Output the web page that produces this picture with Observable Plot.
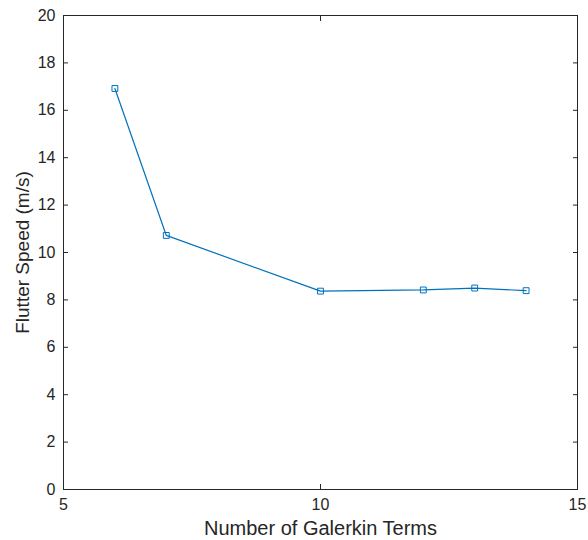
<!DOCTYPE html>
<html>
<head>
<meta charset="utf-8">
<script src="https://cdn.jsdelivr.net/npm/d3@7"></script>
<script src="https://cdn.jsdelivr.net/npm/@observablehq/plot@0.6"></script>
<style>
  html, body { margin: 0; padding: 0; background: #fff; }
  #chart { width: 588px; height: 540px; }
  svg { font-family: "Liberation Sans", Arial, sans-serif; }
</style>
</head>
<body>
<div id="chart"></div>
<script>
// Flutter speed convergence against the number of Galerkin terms
const galerkinTerms = [6, 7, 10, 12, 13, 14];
const flutterSpeed = [16.92, 10.72, 8.37, 8.42, 8.50, 8.39];
const xTicks = [5, 10, 15];
const yTicks = [0, 2, 4, 6, 8, 10, 12, 14, 16, 18, 20];

const rows = galerkinTerms.map((n, i) => ({n, v: flutterSpeed[i]}));

const ink = "#262626";
const lineColor = "#0072BD";

const chart = Plot.plot({
  width: 588,
  height: 540,
  marginLeft: 63,
  marginRight: 11,
  marginTop: 15,
  marginBottom: 51,
  style: {fontSize: "16px", color: ink, background: "#fff"},
  x: {domain: [5, 15]},
  y: {domain: [0, 20]},
  marks: [
    Plot.frame({stroke: ink, strokeWidth: 1}),
    // inward tick marks on all four sides
    Plot.axisX(xTicks, {anchor: "bottom", tickSize: -5, text: null, label: null, stroke: ink}),
    Plot.axisX(xTicks, {anchor: "top", tickSize: -5, text: null, label: null, stroke: ink}),
    Plot.axisY(yTicks, {anchor: "left", tickSize: -5, text: null, label: null, stroke: ink}),
    Plot.axisY(yTicks, {anchor: "right", tickSize: -5, text: null, label: null, stroke: ink}),
    // tick labels and axis titles
    Plot.axisX(xTicks, {anchor: "bottom", tickSize: 0, tickPadding: 9, fontSize: 16, fill: ink,
      label: "Number of Galerkin Terms", labelAnchor: "center", labelArrow: "none", labelOffset: 45}),
    Plot.axisY(yTicks, {anchor: "left", tickSize: 0, tickPadding: 8, fontSize: 16, fill: ink,
      label: "Flutter Speed (m/s)", labelAnchor: "center", labelArrow: "none", labelOffset: 48}),
    Plot.line(rows, {x: "n", y: "v", stroke: lineColor, strokeWidth: 1.2}),
    Plot.dot(rows, {x: "n", y: "v", symbol: "square", r: 3.3, stroke: lineColor, strokeWidth: 1, fill: "none"})
  ]
});

// axis titles are a little larger than tick labels
chart.querySelectorAll("[aria-label='x-axis label'] text").forEach(t => t.setAttribute("font-size", "20"));
chart.querySelectorAll("[aria-label='y-axis label'] text").forEach(t => t.setAttribute("font-size", "19"));

document.getElementById("chart").appendChild(chart);
</script>
</body>
</html>
